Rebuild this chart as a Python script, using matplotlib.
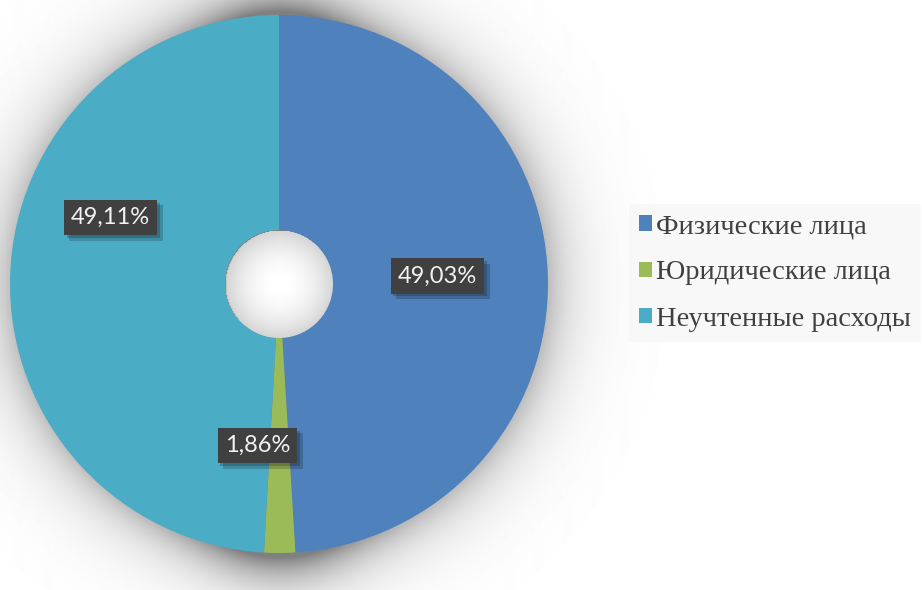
import numpy as np
import matplotlib.pyplot as plt
import matplotlib.patheffects as pe

# Структура расходов
categories = ['Физические лица', 'Юридические лица', 'Неучтенные расходы']
values = [49.03, 1.86, 49.11]
colors = ['#4f81bd', '#9bbb59', '#4bacc6']
labels = ['49,03%', '1,86%', '49,11%']

W, H = 922, 590
cx, cy = 279, 306          # центр кольца (в пикселях, y снизу)
R, r_hole = 269, 54

fig = plt.figure(figsize=(W / 100, H / 100), dpi=100)
ax = fig.add_axes([0, 0, 1, 1])

# мягкая тень вокруг кольца и внутри отверстия
yy, xx = np.mgrid[0:H, 0:W]
yy = H - yy
d = np.hypot(xx - cx, yy - cy)
outer = np.clip(d - R, 0, None)
vert = 1 + 1.3 * np.exp(-((xx - cx) / 80.0) ** 2)
dark = 0.25 * np.exp(-outer / 28.0) * vert
inner = d < r_hole
dark[inner] = 0.17 * (d[inner] / r_hole) ** 2
img = 1 - np.clip(dark, 0, 0.5)
ax.imshow(img, cmap='gray', vmin=0, vmax=1, extent=(0, W, 0, H),
          origin='upper', zorder=0, interpolation='bilinear')

wedges, _ = ax.pie(values, colors=colors, startangle=90, counterclock=False,
                   radius=R, center=(cx, cy),
                   wedgeprops=dict(width=R - r_hole, linewidth=0))
for w in wedges:
    w.set_zorder(2)

# подписи долей: середина кольца, с небольшим сдвигом
shift = [(-3, 3), (-22, 0), (-7, 62)]
rm = (R + r_hole) / 2
for w, lab, (sx, sy) in zip(wedges, labels, shift):
    ang = np.deg2rad((w.theta1 + w.theta2) / 2)
    x = cx + rm * np.cos(ang) + sx
    y = cy + rm * np.sin(ang) + sy
    t = ax.text(x, y, lab, fontsize=17, family='Lato', color='#f2f2f2',
                ha='center', va='center', zorder=4,
                bbox=dict(boxstyle='square,pad=0.3', fc='#404040', ec='none'))
    t.get_bbox_patch().set_path_effects([
        pe.SimplePatchShadow(offset=(4, -4), shadow_rgbFace='black', alpha=0.18),
        pe.SimplePatchShadow(offset=(2, -2), shadow_rgbFace='black', alpha=0.2),
        pe.Normal()])

leg = ax.legend(wedges, categories, loc='center left',
                bbox_to_anchor=(629 / W, 1 - 273 / H), frameon=True,
                facecolor='#f7f7f7', edgecolor='none', fancybox=False,
                prop={'family': 'Liberation Serif', 'size': 20.5},
                handlelength=0.45, handleheight=0.45, handletextpad=0.15,
                labelspacing=0.75, borderpad=0.35, borderaxespad=0)
for t in leg.get_texts():
    t.set_color('#404040')

ax.set_xlim(0, W)
ax.set_ylim(0, H)
ax.set_aspect('auto')
ax.axis('off')

plt.savefig('out.png', dpi=100)
